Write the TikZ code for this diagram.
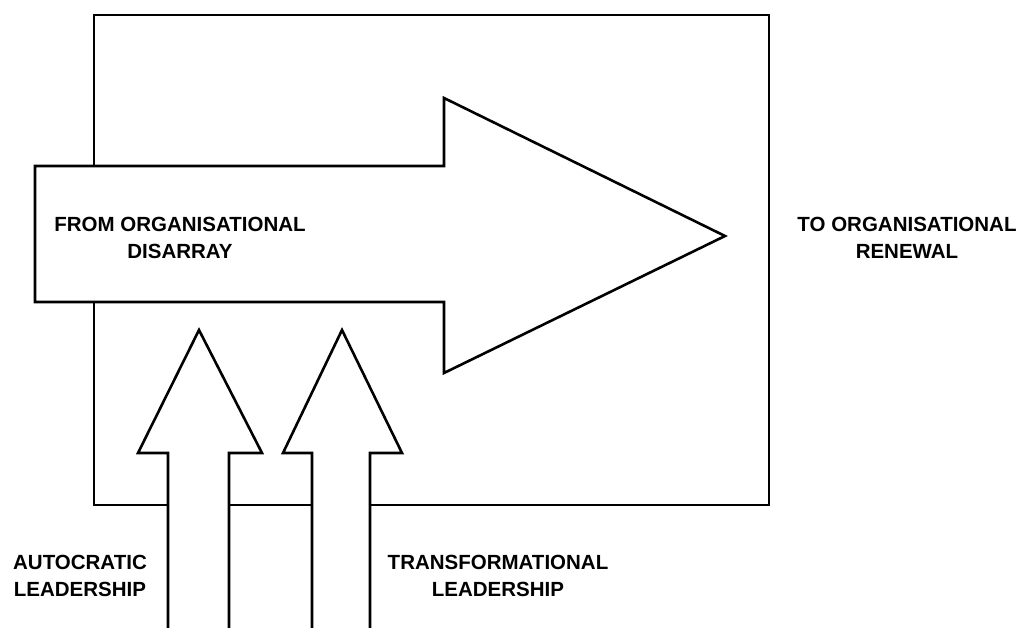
\documentclass[tikz,border=0pt]{standalone}
\usepackage{fontspec}
\setmainfont{Liberation Sans}
\begin{document}
\begin{tikzpicture}[x=1pt,y=-1pt,
  outline/.style={draw=black,line width=2.6pt,line join=miter,fill=white},
  lbl/.style={font=\bfseries\fontsize{20.5}{27}\selectfont,align=center,inner sep=0pt,text=black}]
\useasboundingbox (0,0) rectangle (1022,628);
% frame
\draw[line width=2.8pt] (94,15) rectangle (769,505);
% big arrow
\draw[outline] (35,166) -- (444,166) -- (444,98) -- (725,236) -- (444,373) -- (444,302) -- (35,302) -- cycle;
% small arrows
\draw[outline] (168,640) -- (168,453) -- (138,453) -- (199,330) -- (262,453) -- (229,453) -- (229,640);
\draw[outline] (312,640) -- (312,453) -- (283,453) -- (342,330) -- (402,453) -- (370,453) -- (370,640);
% labels
\node[lbl] (from) at (180,237.5) {FROM ORGANISATIONAL\\DISARRAY};
\node[lbl] (to) at (907,237.5) {TO ORGANISATIONAL\\RENEWAL};
\node[lbl] (auto) at (80,576) {AUTOCRATIC\\LEADERSHIP};
\node[lbl] (trans) at (498,576) {TRANSFORMATIONAL\\LEADERSHIP};
\end{tikzpicture}
\end{document}
